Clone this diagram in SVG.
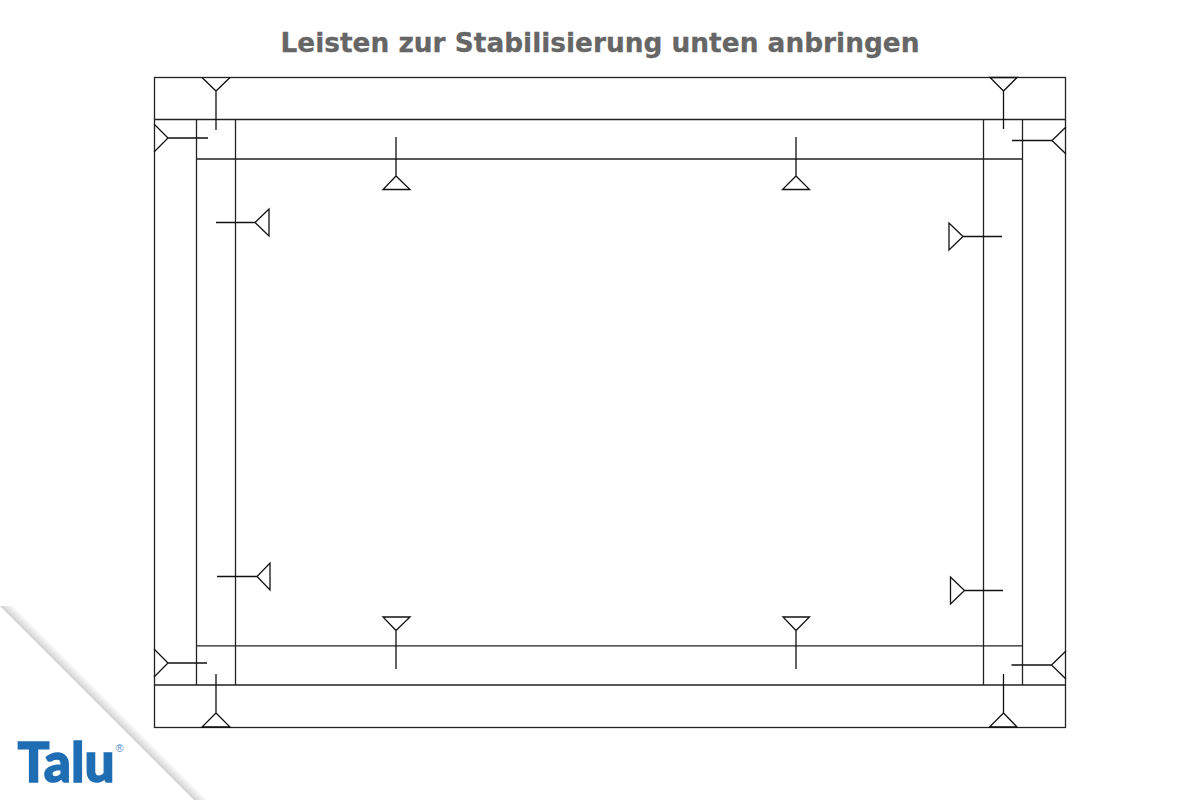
<svg xmlns="http://www.w3.org/2000/svg" width="1200" height="800" viewBox="0 0 1200 800">
<style>
.l{fill:none;stroke:#222;stroke-width:1.3}
.s{fill:none;stroke:#111;stroke-width:1.3}
text{font-family:"DejaVu Sans",sans-serif}
</style>
<defs>
<linearGradient id="sh" gradientUnits="userSpaceOnUse" x1="100" y1="706" x2="107" y2="699">
<stop offset="0" stop-color="#bbb" stop-opacity=".7"/>
<stop offset="1" stop-color="#bbb" stop-opacity="0"/>
</linearGradient>
</defs>
<rect width="1200" height="800" fill="#fff"/>
<g id="corner"><polygon points="0,606 14,606 208,800 194,800" fill="url(#sh)"/></g>
<text id="title" x="600" y="52" text-anchor="middle" font-size="26.4" font-weight="700" fill="#666" stroke="#666" stroke-width=".3">Leisten zur Stabilisierung unten anbringen</text>
<g id="frame">
<rect x="154.500" y="77.500" width="911" height="650" class="l"/>
<path class="l" d="M154.500 119.500H1065.500M154.500 685H1065.500M196.500 159H1022.500M196.500 645.800H1022.500M196.500 119.500V685M235.500 119.500V685M983.500 119.500V685M1022.500 119.500V685"/>
</g>
<g id="connectors">
<path class="s" d="M202 77.500L216 91L230 77.500M216 91V130"/>
<path class="s" d="M990 77.500H1017L1003.500 91ZM1003.500 91V129"/>
<path class="s" d="M154 124L168 138L154 152M168 138H208"/>
<path class="s" d="M1066 127L1052 140.500L1066 154M1052 140.500H1012"/>
<path class="s" d="M269 209V236L255 222.500ZM255 222.500H216"/>
<path class="s" d="M949 223V250L963 236.500ZM963 236.500H1002"/>
<path class="s" d="M383 189.500H410L396 176ZM396 176V137"/>
<path class="s" d="M782.500 189.500H809.500L796 176ZM796 176V137"/>
<path class="s" d="M270 563V590L257 576.500ZM257 576.500H217"/>
<path class="s" d="M950.500 577V604L964.500 590.500ZM964.500 590.500H1003"/>
<path class="s" d="M383 617H410L396 630.500ZM396 630.500V669"/>
<path class="s" d="M783 617H809.500L796 630.500ZM796 630.500V669"/>
<path class="s" d="M154 649L168 663L154 677M168 663H207"/>
<path class="s" d="M1066 651L1051.500 665L1066 679M1051.500 665H1011.500"/>
<path class="s" d="M202 727H230L216 713ZM216 713V674"/>
<path class="s" d="M989.500 727H1017L1003.500 713ZM1003.500 713V674"/>
</g>
<g id="logo">
<text transform="translate(17.500 782) scale(.95 1)" font-size="56" font-weight="900" fill="#1f6db3" stroke="#1f6db3" stroke-width="1.4" style="font-family:Lato,'Open Sans',sans-serif">Talu<tspan dx="1" dy="-30" font-size="11" font-weight="400" stroke="none" fill="#4a8cc8" style="font-family:'Liberation Sans',sans-serif">®</tspan></text>
</g>
</svg>
